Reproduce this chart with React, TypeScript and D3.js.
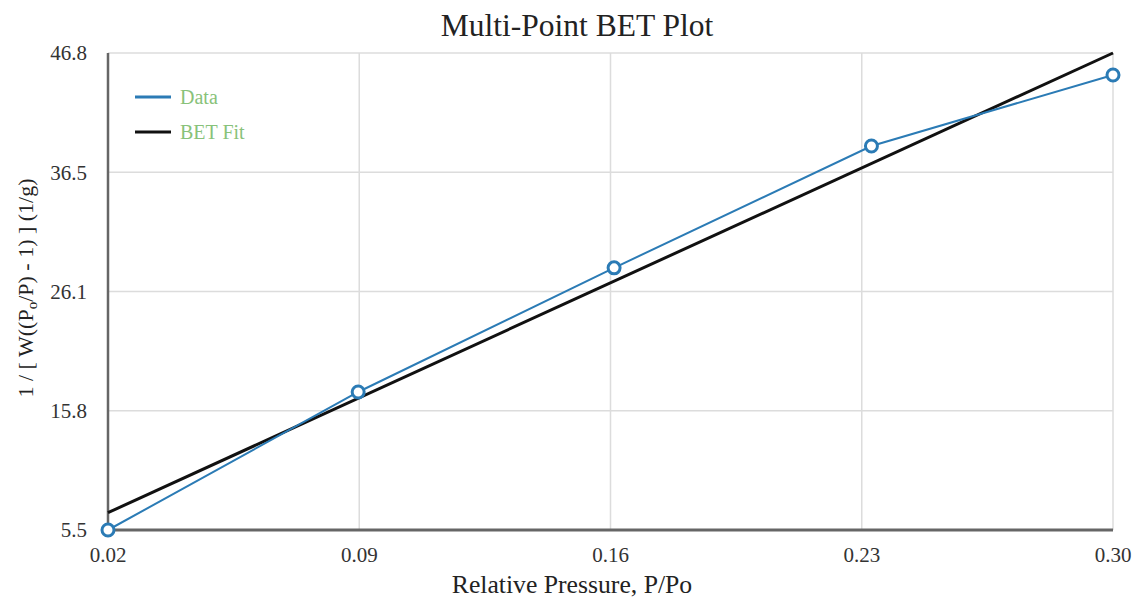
import React from "react";
import * as d3 from "d3";

const xTicks = [0.02, 0.09, 0.16, 0.23, 0.3];
const xTickLabels = ["0.02", "0.09", "0.16", "0.23", "0.30"];
const yTicks = [5.5, 15.825, 26.15, 36.475, 46.8];
const yTickLabels = ["5.5", "15.8", "26.1", "36.5", "46.8"];

const dataX = [0.02, 0.0897, 0.161, 0.2327, 0.3];
const dataY = [5.5, 17.45, 28.2, 38.75, 44.9];

const fitX = [0.02, 0.3];
const fitY = [7.0, 46.8];

const legendLabels = ["Data", "BET Fit"];

const W = 1135;
const H = 605;
const left = 108;
const right = 1113;
const top = 53;
const bottom = 530;

const BLUE = "#2b7bb5";
const FONT = "Liberation Serif, DejaVu Serif, serif";

export default function App() {
  const x = d3.scaleLinear().domain([0.02, 0.3]).range([left, right]);
  const y = d3.scaleLinear().domain([5.5, 46.8]).range([bottom, top]);

  const dataPts = dataX.map((v, i) => [v, dataY[i]] as [number, number]);
  const fitPts = fitX.map((v, i) => [v, fitY[i]] as [number, number]);
  const line = d3
    .line<[number, number]>()
    .x((d) => x(d[0]))
    .y((d) => y(d[1]));

  const ts = { fontFamily: FONT };

  return (
    <svg
      width={W}
      height={H}
      style={{ position: "absolute", left: 0, top: 0, background: "#fff", fontFamily: FONT }}
    >
      <rect x={0} y={0} width={W} height={H} fill="#fff" />
      {/* gridlines */}
      {yTicks.slice(1).map((t, i) => (
        <line key={"gy" + i} x1={left} x2={right} y1={y(t)} y2={y(t)} stroke="#dcdcdc" strokeWidth={1.5} />
      ))}
      {xTicks.slice(1).map((t, i) => (
        <line key={"gx" + i} x1={x(t)} x2={x(t)} y1={top} y2={bottom} stroke="#dcdcdc" strokeWidth={1.5} />
      ))}
      {/* axes */}
      <line x1={left} x2={left} y1={top} y2={bottom + 1} stroke="#666" strokeWidth={2.5} />
      <line x1={left} x2={right} y1={bottom} y2={bottom} stroke="#666" strokeWidth={3} />

      {/* y tick labels */}
      {yTicks.map((t, i) => (
        <text key={"yl" + i} style={ts} x={87} y={y(t)} dy="0.35em" textAnchor="end" fontSize={21} fill="#333">
          {yTickLabels[i]}
        </text>
      ))}
      {/* x tick labels */}
      {xTicks.map((t, i) => (
        <text key={"xl" + i} style={ts} x={x(t)} y={562} textAnchor="middle" fontSize={21} fill="#333">
          {xTickLabels[i]}
        </text>
      ))}

      {/* fit line */}
      <path d={line(fitPts) || ""} fill="none" stroke="#111" strokeWidth={3} />
      {/* data line */}
      <path d={line(dataPts) || ""} fill="none" stroke={BLUE} strokeWidth={2} />
      {dataPts.map((d, i) => (
        <circle key={"c" + i} cx={x(d[0])} cy={y(d[1])} r={6} fill="#fff" stroke={BLUE} strokeWidth={3} />
      ))}

      {/* legend */}
      <line x1={135} x2={171} y1={97} y2={97} stroke={BLUE} strokeWidth={3} />
      <text style={ts} x={180} y={104} fontSize={20} fill="#88c27a">{legendLabels[0]}</text>
      <line x1={135} x2={171} y1={132} y2={132} stroke="#111" strokeWidth={3} />
      <text style={ts} x={180} y={139} fontSize={20} fill="#88c27a">{legendLabels[1]}</text>

      {/* title */}
      <text style={ts} x={577} y={36} textAnchor="middle" fontSize={31.5} fill="#222">
        Multi-Point BET Plot
      </text>
      {/* x axis label */}
      <text style={ts} x={572} y={593} textAnchor="middle" fontSize={25.7} fill="#222">
        Relative Pressure, P/Po
      </text>
      {/* y axis label */}
      <text
        style={ts}
        transform="translate(33,288) rotate(-90)"
        textAnchor="middle"
        fontSize={22}
        fill="#222"
      >
        1 / [ W((P<tspan fontSize={15} dy={4}>o</tspan><tspan dy={-4}>/P) - 1) ] (1/g)</tspan>
      </text>
    </svg>
  );
}
